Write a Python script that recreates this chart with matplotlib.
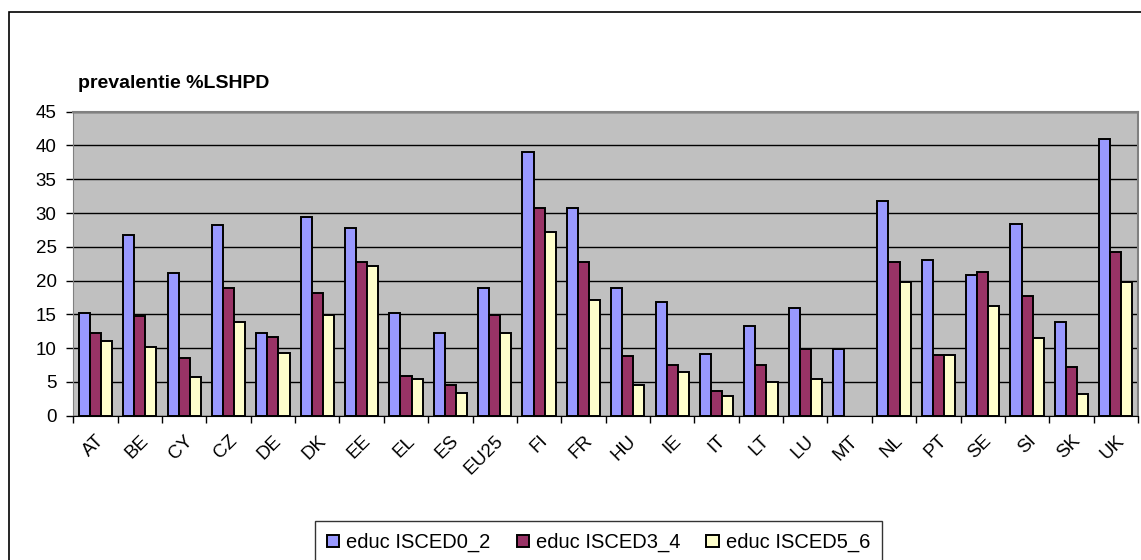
import numpy as np
import matplotlib.pyplot as plt
from matplotlib.patches import Rectangle

plt.rcParams['font.family'] = ['Liberation Sans', 'DejaVu Sans']

# ---------------------------
# Data
# ---------------------------
landen = ['AT', 'BE', 'CY', 'CZ', 'DE', 'DK', 'EE', 'EL', 'ES', 'EU25', 'FI', 'FR',
          'HU', 'IE', 'IT', 'LT', 'LU', 'MT', 'NL', 'PT', 'SE', 'SI', 'SK', 'UK']
isced0_2 = [15.2, 26.8, 21.1, 28.3, 12.3, 29.4, 27.8, 15.2, 12.3, 18.9, 39.0, 30.8,
            18.9, 16.8, 9.1, 13.3, 16.0, 9.9, 31.8, 23.0, 20.8, 28.4, 13.9, 41.0]
isced3_4 = [12.3, 14.7, 8.5, 18.9, 11.7, 18.1, 22.7, 5.9, 4.5, 14.9, 30.8, 22.7,
            8.8, 7.5, 3.7, 7.5, 9.9, np.nan, 22.7, 9.0, 21.2, 17.7, 7.2, 24.3]
isced5_6 = [11.0, 10.2, 5.8, 13.9, 9.3, 14.9, 22.1, 5.5, 3.4, 12.3, 27.2, 17.1,
            4.5, 6.4, 2.9, 5.0, 5.5, np.nan, 19.8, 9.0, 16.3, 11.5, 3.2, 19.8]
reeksen = ['educ ISCED0_2', 'educ ISCED3_4', 'educ ISCED5_6']
kleuren = ['#9999FF', '#993366', '#FFFFCC']

# ---------------------------
# Figure
# ---------------------------
fig = plt.figure(figsize=(11.41, 5.6), dpi=100)
ax = fig.add_axes([73.3 / 1141, 1 - 415.7 / 560, (1138 - 73.3) / 1141, (415.7 - 111.7) / 560])

x = np.arange(len(landen))
bw = 0.25
for i, (vals, kleur, naam) in enumerate(zip([isced0_2, isced3_4, isced5_6], kleuren, reeksen)):
    ax.bar(x + (i - 1) * bw, vals, width=bw, color=kleur, edgecolor='black',
           linewidth=1.4, label=naam, zorder=3)

ax.set_facecolor('#C0C0C0')
ax.set_xlim(-0.5, len(landen) - 0.5)
ax.set_ylim(0, 45)
ax.set_yticks(np.arange(0, 46, 5))
ax.yaxis.grid(True, color='black', linewidth=1.0, zorder=1)
ax.set_axisbelow(True)

# major ticks op de grenzen, labels op de midden
ax.set_xticks(np.arange(-0.5, len(landen), 1))
ax.set_xticklabels([])
ax.set_xticks(x, minor=True)
ax.set_xticklabels(landen, minor=True, rotation=45, ha='right',
                   rotation_mode='anchor', fontsize=13.5)
ax.tick_params(axis='x', which='minor', length=0, pad=12)
ax.tick_params(axis='x', which='major', length=5, width=1, direction='out')
ax.tick_params(axis='y', length=5, width=1, labelsize=13.5, pad=7)

for side in ['top', 'right']:
    ax.spines[side].set_color('#808080')
    ax.spines[side].set_linewidth(1.5)
ax.spines['left'].set_color('#808080')
ax.spines['bottom'].set_color('black')

fig.text(78 / 1141, 1 - 84 / 560, 'prevalentie %LSHPD', fontsize=14,
         fontweight='bold', va='center', ha='left')

# buitenkader (rechts en onder vallen buiten het beeld)
fig.patches.append(Rectangle((8.5 / 1141, -0.1), 1.2, 1.1 - 12 / 560, fill=False,
                             edgecolor='black', linewidth=1.2,
                             transform=fig.transFigure, figure=fig))

leg = fig.legend(loc='upper left', bbox_to_anchor=(315 / 1141, 1 - 521 / 560),
                 ncol=3, fontsize=14.5, frameon=True, fancybox=False,
                 edgecolor='black', handlelength=0.6, handleheight=0.6,
                 handletextpad=0.35, columnspacing=1.3, borderpad=0.6,
                 borderaxespad=0)
leg.get_frame().set_linewidth(1.0)

fig.savefig('out.png', dpi=100, facecolor='white')
